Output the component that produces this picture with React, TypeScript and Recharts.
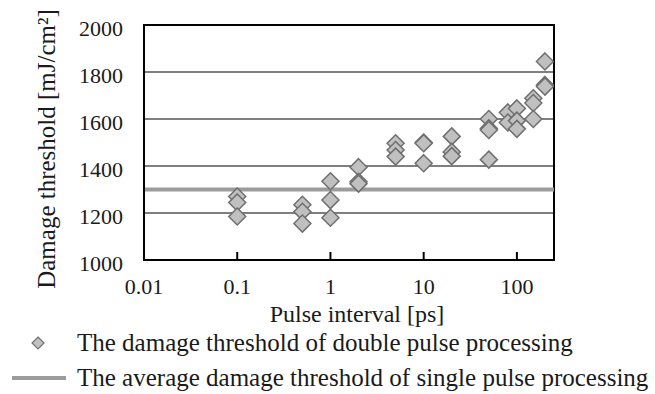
import React from 'react';
import {
  ComposedChart,
  Scatter,
  XAxis,
  YAxis,
  CartesianGrid,
  ReferenceLine,
  ReferenceArea,
  Legend,
} from 'recharts';

const pulseIntervals = [
  0.1, 0.1, 0.1,
  0.5, 0.5, 0.5,
  1, 1, 1,
  2, 2, 2,
  5, 5, 5,
  10, 10, 10,
  20, 20, 20,
  50, 50, 50, 50,
  80, 80,
  100, 100, 100,
  150, 150, 150,
  200, 200, 200,
];
const damageThresholds = [
  1270, 1245, 1185,
  1235, 1205, 1155,
  1335, 1255, 1180,
  1395, 1333, 1325,
  1497, 1468, 1440,
  1500, 1497, 1412,
  1526, 1460, 1442,
  1600, 1560, 1553, 1427,
  1628, 1585,
  1645, 1593, 1558,
  1688, 1668, 1600,
  1845, 1745, 1738,
];
const singlePulseAverage = 1300;
const xTicks = [0.01, 0.1, 1, 10, 100];
const yTicks = [1000, 1200, 1400, 1600, 1800, 2000];
const xDomain = [0.01, 250];
const yDomain = [1000, 2000];

const xTitle = 'Pulse interval [ps]';
const yTitle = 'Damage threshold [mJ/cm²]';
const legendDouble = 'The damage threshold of double pulse processing';
const legendSingle = 'The average damage threshold of single pulse processing';

const data = pulseIntervals.map((x, i) => ({ x, y: damageThresholds[i] }));

const FONT = "'Liberation Serif', 'Times New Roman', Times, 'DejaVu Serif', serif";
const TEXT_COLOR = '#1a1a1a';
const DIAMOND_FILL = '#c0c0c0';
const DIAMOND_STROKE = '#6f6f6f';
const AVG_COLOR = '#9c9c9c';

const Diamond = (props: any) => {
  const { cx, cy } = props;
  if (cx == null || cy == null) return null;
  const r = 8.5;
  return (
    <polygon
      points={`${cx},${cy - r} ${cx + r},${cy} ${cx},${cy + r} ${cx - r},${cy}`}
      fill={DIAMOND_FILL}
      stroke={DIAMOND_STROKE}
      strokeWidth={1.5}
    />
  );
};

const LegendContent = () => (
  <div style={{ fontFamily: FONT, fontSize: 25, color: TEXT_COLOR, lineHeight: '35px' }}>
    <div style={{ display: 'flex', alignItems: 'center', height: 35 }}>
      <svg width={77} height={20} style={{ flex: 'none' }}>
        <polygon points="38,4 44,10 38,16 32,10" fill={DIAMOND_FILL} stroke={DIAMOND_STROKE} strokeWidth={1.2} />
      </svg>
      <span style={{ whiteSpace: 'nowrap' }}>{legendDouble}</span>
    </div>
    <div style={{ display: 'flex', alignItems: 'center', height: 35 }}>
      <svg width={77} height={20} style={{ flex: 'none' }}>
        <line x1={12} y1={10} x2={66} y2={10} stroke={AVG_COLOR} strokeWidth={4} />
      </svg>
      <span style={{ whiteSpace: 'nowrap' }}>{legendSingle}</span>
    </div>
  </div>
);

const XTitle = () => (
  <text x={357} y={322} textAnchor="middle" style={{ fontFamily: FONT }} fontSize={24} fill={TEXT_COLOR}>
    {xTitle}
  </text>
);

const YTitle = () => (
  <text
    x={55}
    y={149}
    transform="rotate(-90 55 149)"
    textAnchor="middle"
    style={{ fontFamily: FONT }}
    fontSize={25}
    fill={TEXT_COLOR}
  >
    {yTitle}
  </text>
);

export default function App() {
  return (
    <div style={{ position: 'absolute', left: 0, top: 0, width: 655, height: 394, background: '#fff', fontFamily: FONT }}>
      <ComposedChart
        width={655}
        height={394}
        data={data}
        margin={{ top: 25, right: 101, bottom: 104, left: 0 }}
        style={{ fontFamily: FONT }}
      >
        <CartesianGrid horizontal vertical={false} stroke="#555" strokeWidth={1.5} />
        <XAxis
          dataKey="x"
          type="number"
          scale="log"
          domain={xDomain}
          ticks={xTicks}
          interval={0}
          height={30}
          allowDataOverflow
          axisLine={{ stroke: '#000', strokeWidth: 2 }}
          tickLine={{ stroke: '#000', strokeWidth: 2 }}
          tickSize={-8}
          tickMargin={26}
          tick={{ fontFamily: FONT, fontSize: 22, fill: TEXT_COLOR, style: { fontFamily: FONT } }}
          tickFormatter={(v: number) => String(v)}
          label={<XTitle />}
        />
        <YAxis
          dataKey="y"
          type="number"
          domain={yDomain}
          ticks={yTicks}
          interval={0}
          width={144}
          axisLine={{ stroke: '#000', strokeWidth: 2 }}
          tickLine={false}
          tickSize={0}
          tickMargin={21}
          tick={{ fontFamily: FONT, fontSize: 22, fill: TEXT_COLOR, dy: 3, style: { fontFamily: FONT } }}
          label={<YTitle />}
        />
        <ReferenceLine y={singlePulseAverage} stroke={AVG_COLOR} strokeWidth={4} />
        <ReferenceArea
          x1={xDomain[0]}
          x2={xDomain[1]}
          y1={yDomain[0]}
          y2={yDomain[1]}
          fill="none"
          stroke="#000"
          strokeWidth={2}
          fillOpacity={0}
        />
        <Scatter data={data} dataKey="y" shape={<Diamond />} isAnimationActive={false} />
        <Legend
          layout="horizontal"
          verticalAlign="middle"
          align="center"
          content={<LegendContent />}
          wrapperStyle={{ position: 'absolute', left: 0, top: 325, width: 655, height: 70 }}
        />
      </ComposedChart>
    </div>
  );
}
